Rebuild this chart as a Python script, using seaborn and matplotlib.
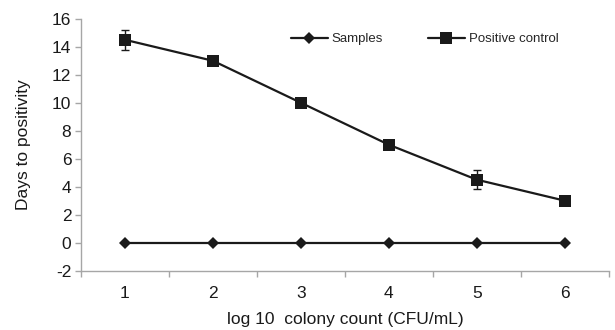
import numpy as np
import pandas as pd
import seaborn as sns
import matplotlib.pyplot as plt

# data
log_cfu = [1, 2, 3, 4, 5, 6]
samples = [0, 0, 0, 0, 0, 0]
positive_control = [14.5, 13, 10, 7, 4.5, 3]
positive_err = [0.7, 0, 0, 0, 0.7, 0]

df = pd.DataFrame({
    'log_cfu': log_cfu * 2,
    'days': samples + positive_control,
    'series': ['Samples'] * 6 + ['Positive control'] * 6,
})

sns.set_style('white')
plt.rcParams['font.family'] = ['Liberation Sans', 'DejaVu Sans']
plt.rcParams['axes.unicode_minus'] = False

fig = plt.figure(figsize=(6.15, 3.3), dpi=100)
ax = fig.add_axes([0.1317, 0.18, 0.858, 0.763])

ink = '#1a1a1a'
grey = '#a6a6a6'

ax.errorbar(log_cfu, positive_control, yerr=positive_err, fmt='none',
            ecolor=ink, elinewidth=1, capsize=3, capthick=1, zorder=2)
sns.lineplot(data=df, x='log_cfu', y='days', hue='series', style='series',
             markers={'Samples': 'D', 'Positive control': 's'},
             dashes=False, palette={'Samples': ink, 'Positive control': ink},
             linewidth=1.6, markersize=7, markeredgewidth=0, ax=ax, zorder=3)
for line in ax.lines:
    if line.get_marker() == 's':
        line.set_markersize(8)
    elif line.get_marker() == 'D':
        line.set_markersize(6)

ax.set_xlim(0.5, 6.5)
ax.set_ylim(-2, 16)
ax.set_yticks(np.arange(-2, 17, 2))
ax.set_xticks(log_cfu)
ax.set_xticks(np.arange(0.5, 7, 1), minor=True)
ax.tick_params(axis='x', which='major', bottom=True, length=0, pad=11,
               labelsize=12.5, labelcolor=ink)
ax.tick_params(axis='x', which='minor', bottom=True, length=4, width=1,
               color=grey, direction='out')
ax.tick_params(axis='y', left=True, length=4, width=1, color=grey, direction='out',
               labelsize=12.5, labelcolor=ink, pad=3)

for side in ['top', 'right']:
    ax.spines[side].set_visible(False)
for side in ['left', 'bottom']:
    ax.spines[side].set_color(grey)
    ax.spines[side].set_linewidth(1)

ax.set_xlabel('log 10  colony count (CFU/mL)', fontsize=12.5, color=ink, labelpad=8)
ax.set_ylabel('Days to positivity', fontsize=12.5, color=ink, labelpad=15)

handles, labels = ax.get_legend_handles_labels()
ax.legend(handles, labels, ncol=2, frameon=False, fontsize=9.5,
          loc='upper left', bbox_to_anchor=(0.375, 0.99), handlelength=2.8,
          columnspacing=3.4, handletextpad=0.3)

plt.savefig('out.png', dpi=100)
